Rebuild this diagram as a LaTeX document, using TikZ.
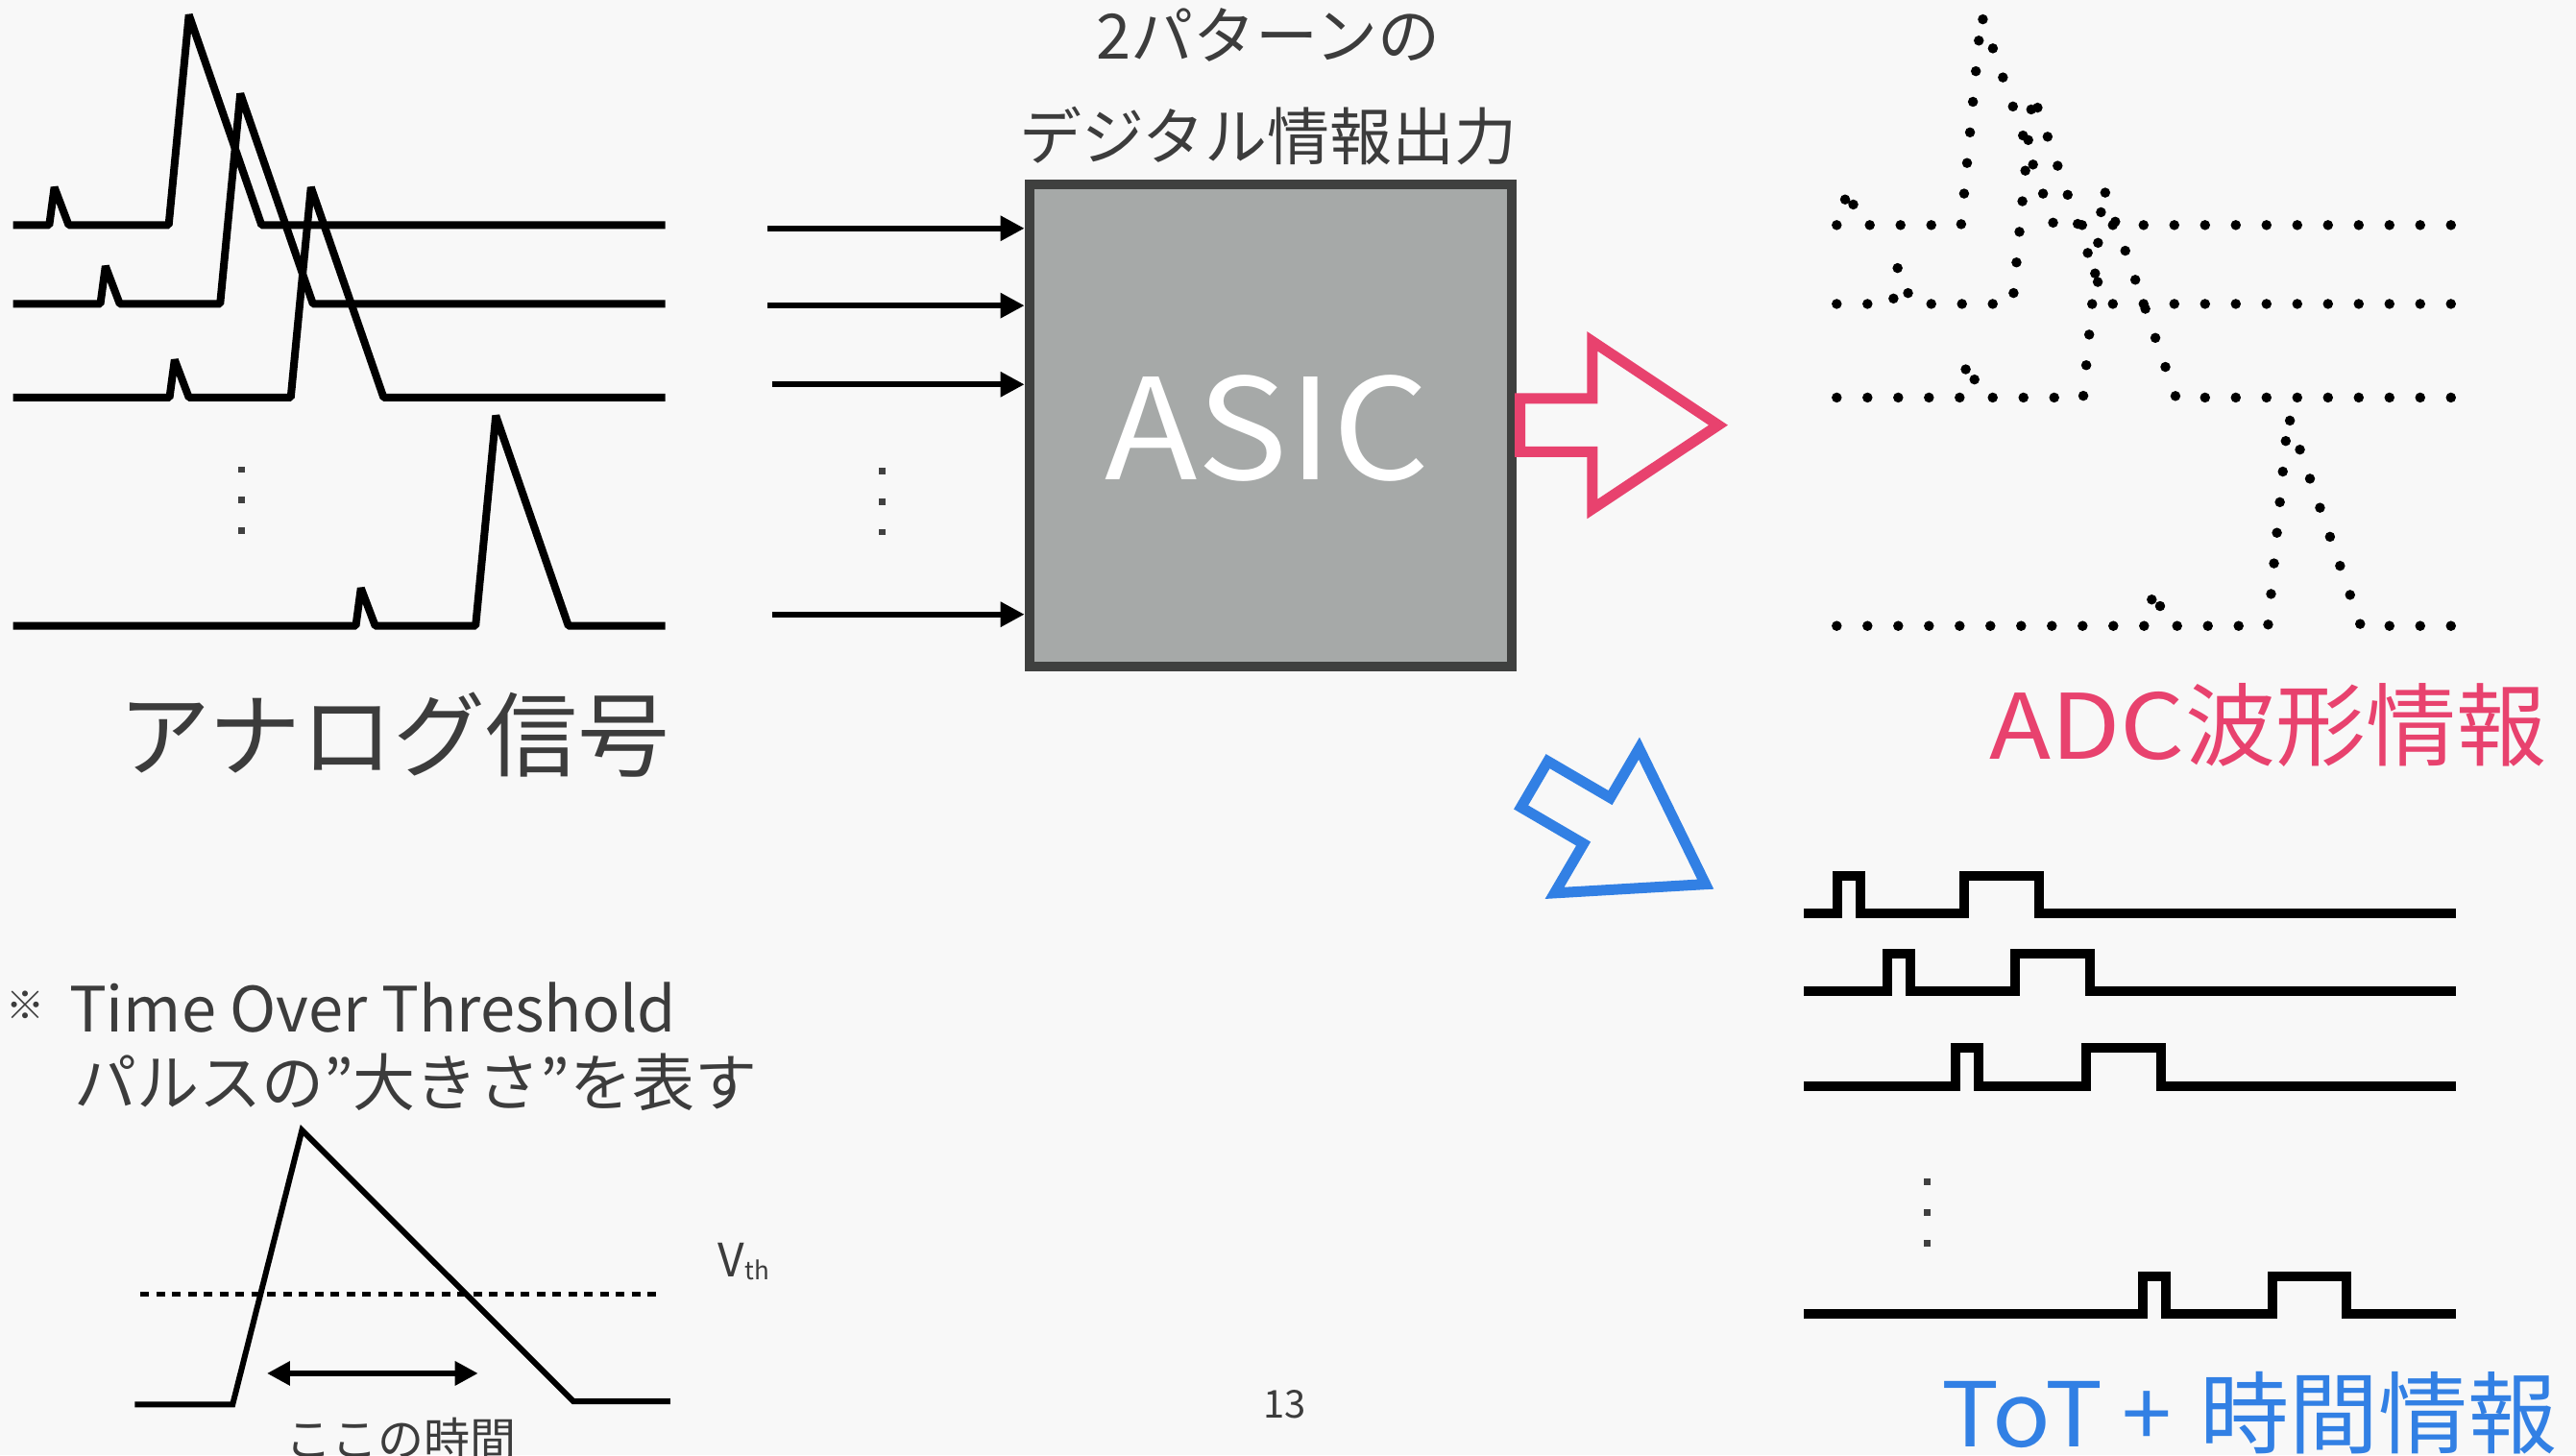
\documentclass[tikz,border=0pt]{standalone}
\usepackage{fontspec}
\usepackage{graphicx}
\setmainfont{Noto Sans CJK JP}
\usetikzlibrary{arrows.meta}
\definecolor{bgc}{HTML}{F8F8F8}
\definecolor{txt}{HTML}{3C3C3C}
\definecolor{asicfill}{HTML}{A6A9A8}
\definecolor{asicedge}{HTML}{3F403F}
\definecolor{pinkc}{HTML}{E8426E}
\definecolor{bluec}{HTML}{3280E4}
\definecolor{dotc}{HTML}{404040}
\begin{document}
\begin{tikzpicture}[x=1.7105pt,y=-1.7105pt,
  analog/.style={line width=8pt, line join=bevel},
  adcdots/.style={line width=10.5pt, line cap=round, dash pattern=on 0pt off 32pt},
  totline/.style={line width=10pt, line join=miter},
  inarrow/.style={line width=6pt, -{Triangle[length=25pt,width=25pt]}},
  ellip/.style={fill=dotc},
  jp/.style={text=txt, inner sep=0pt},
  hollow/.style={line width=11pt, line join=miter},
]
\useasboundingbox (0,0) rectangle (1568,886);
\clip (0,0) rectangle (1568,886);
\fill[bgc] (0,0) rectangle (1568,886);

% analog signals and their sampled (ADC) copies
\foreach \y/\b/\p in {137/30/102.7, 185/61.1/134, 242/103.2/177, 381/216.6/289.5}{
  \draw[analog] (8,\y) -- (\b,\y) -- ({\b+3.1},{\y-23}) -- ({\b+11.8},\y) -- (\p,\y)
     -- ({\p+12.3},{\y-128}) -- ({\p+56.5},\y) -- (405,\y);
  \begin{scope}[shift={(1091,0)}]
  \draw[adcdots] (27,\y) -- (\b,\y) -- ({\b+3.1},{\y-23}) -- ({\b+11.8},\y) -- (\p,\y)
     -- ({\p+12.3},{\y-128}) -- ({\p+56.5},\y) -- (401,\y);
  \end{scope}
}
% ellipses
\foreach \x/\y in {147/285.9, 147/304.4, 147/323.2, 537/286.8, 537/305.4, 537/323.9, 1173/719.6, 1173/738.2, 1173/757}{
  \fill[ellip] ({\x-2},{\y-2}) rectangle ({\x+2},{\y+2});
}

% ASIC
\node[draw=asicedge, fill=asicfill, line width=10pt, minimum width=502pt, minimum height=502pt,
  inner sep=0pt] (asic) at (773.25,258.75) {};
\node[text=white, inner sep=0pt, font=\fontsize{146}{146}\selectfont] (asictext) at (771.5,260.5) {\scalebox{1.085}[1]{ASIC}};
\coordinate (in1) at (467.3,139);
\coordinate (in2) at (467.3,186);
\coordinate (in3) at (469.8,234);
\coordinate (in4) at (469.8,374);
\foreach \i in {1,2,3,4}{\draw[inarrow] (in\i) -- (in\i -| asic.west);}

\node[jp, font=\fontsize{65}{65}\selectfont] (pat) at (772,21.5) {2パターンの};
\node[jp, font=\fontsize{65}{65}\selectfont] (dig) at (772,83) {デジタル情報出力};
\node[jp, font=\fontsize{96}{96}\selectfont] (ana) at (240,447.5) {アナログ信号};

% hollow arrows
\draw[hollow, pinkc, shift={(925.3,258.8)}] (0,-16.2) -- (44,-16.2) -- (44,-51) -- (120.6,0) -- (44,51) -- (44,16.2) -- (0,16.2) -- cycle;
\draw[hollow, bluec, shift={(934,477.4)}, rotate=-30.3] (0,-16.2) -- (44,-16.2) -- (44,-51) -- (120.6,0) -- (44,51) -- (44,16.2) -- (0,16.2) -- cycle;

\node[text=pinkc, inner sep=0pt, anchor=base east, font=\fontsize{94}{94}\selectfont] (adc) at (1550,461.9) {\scalebox{1.12}[1]{ADC}波形情報};
\node[text=bluec, inner sep=0pt, anchor=base west, font=\fontsize{93}{93}\selectfont] (tot) at (1182,881) {\scalebox{1.08}[1]{ToT}\hspace{20pt}+\hspace{30pt}時間情報};

% ToT digital rows
\foreach \y/\n/\w in {556/1118.6/1195.6, 603.5/1148.8/1226.4, 661/1190.5/1270, 800/1304.5/1383}{
  \draw[totline] (1098,\y) -- (\n,\y) -- (\n,{\y-23}) -- ({\n+14},{\y-23}) -- ({\n+14},\y)
    -- (\w,\y) -- (\w,{\y-23}) -- ({\w+45.5},{\y-23}) -- ({\w+45.5},\y) -- (1495,\y);
}

% Time over threshold explanation
\node[jp, font=\fontsize{40}{40}\selectfont] (kome) at (15.5,612) {※};
\node[jp, anchor=base west, font=\fontsize{65}{65}\selectfont] (tothr) at (42,628.4) {Time Over Threshold};
\node[jp, anchor=west, font=\fontsize{65}{65}\selectfont] (pulse) at (45,659) {パルスの”大きさ”を表す};
\draw[line width=6pt] (82,855) -- (141.6,855) -- (183.8,688) -- (349,853) -- (408,853);
\draw[line width=5pt, dash pattern=on 9pt off 7.5pt] (85.5,788) -- (403,788);
\coordinate (ta) at (162.5,836);
\coordinate (tb) at (291,836);
\draw[line width=6pt, {Triangle[length=24pt,width=24pt]}-{Triangle[length=24pt,width=24pt]}] (ta) -- (tb);
\node[jp, anchor=base west] (vth) at (437,777) {\fontsize{48}{48}\selectfont V\raisebox{-3pt}{\fontsize{26}{26}\selectfont th}};
\node[jp, font=\fontsize{48}{48}\selectfont] (koko) at (244,876) {ここの時間};
\node[jp, font=\fontsize{40}{40}\selectfont] (pageno) at (782,855) {13};
\end{tikzpicture}
\end{document}
